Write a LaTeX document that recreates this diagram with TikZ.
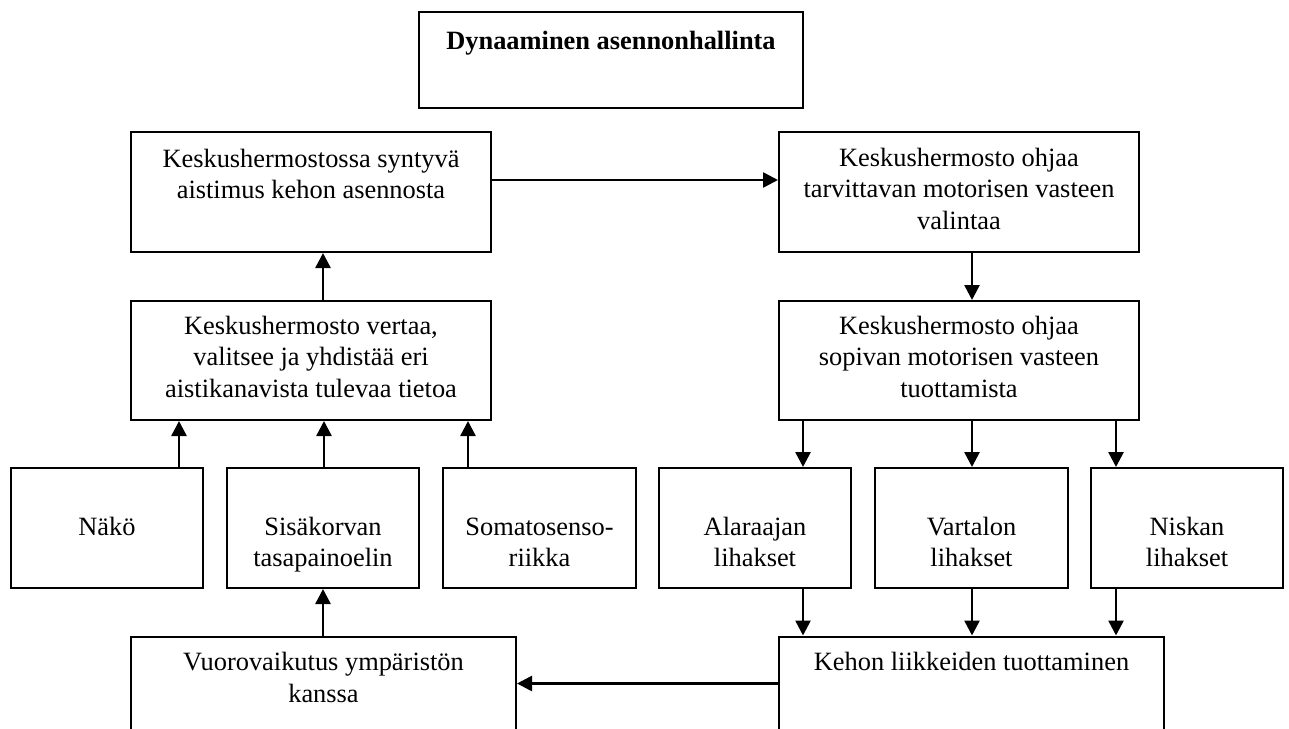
\documentclass[tikz,border=0pt]{standalone}
\usepackage{fontspec}
\setmainfont{Liberation Serif}
\usetikzlibrary{arrows.meta}
\tikzset{
  box/.style={draw, line width=2pt, inner sep=0pt},
  txt/.style={inner sep=0pt, align=center, anchor=north, font=\fontsize{26.4}{31.5}\selectfont},
  arr/.style={line width=2.6pt, -{Triangle[length=15pt,width=15pt]}}
}
\newcommand\mkbox[5]{\node[box, minimum width={(#4-#2)*1pt}, minimum height={(#5-#3)*1pt}] (#1) at ({(#2+#4)/2},{(#3+#5)/2}) {};}
\begin{document}
\begin{tikzpicture}[x=1pt,y=-1pt]
\useasboundingbox (0,0) rectangle (1289,728);
\clip (0,0) rectangle (1289,728);
% boxes
\mkbox{T}{419}{12}{803}{108}
\mkbox{A}{131}{132}{491}{252}
\mkbox{B}{779}{132}{1139}{252}
\mkbox{C}{131}{301}{491}{420}
\mkbox{D}{779}{301}{1139}{420}
\mkbox{N}{11}{468}{203}{588}
\mkbox{S}{227}{468}{419}{588}
\mkbox{M}{443}{468}{636}{588}
\mkbox{L}{659}{468}{851}{588}
\mkbox{R}{875}{468}{1068}{588}
\mkbox{K2}{1091}{468}{1283}{588}
\mkbox{V}{131}{636.5}{516}{760}
\mkbox{K}{779}{636.5}{1164}{760}
% texts
\node[txt, font=\fontsize{26.4}{31.5}\selectfont\bfseries] at ([yshift=-16pt]T.north) {\strut Dynaaminen asennonhallinta};
\node[txt] at ([yshift=-14pt]A.north) {\strut Keskushermostossa syntyvä\\aistimus kehon asennosta};
\node[txt] at ([yshift=-13pt]B.north) {\strut Keskushermosto ohjaa\\tarvittavan motorisen vasteen\\valintaa};
\node[txt] at ([yshift=-12pt]C.north) {\strut Keskushermosto vertaa,\\valitsee ja yhdistää eri\\aistikanavista tulevaa tietoa};
\node[txt] at ([yshift=-12pt]D.north) {\strut Keskushermosto ohjaa\\sopivan motorisen vasteen\\tuottamista};
\node[txt] at ([yshift=-46pt]N.north) {\strut Näkö};
\node[txt] at ([yshift=-46pt]S.north) {\strut Sisäkorvan\\tasapainoelin};
\node[txt] at ([yshift=-46pt]M.north) {\strut Somatosenso-\\riikka};
\node[txt] at ([yshift=-46pt]L.north) {\strut Alaraajan\\lihakset};
\node[txt] at ([yshift=-46pt]R.north) {\strut Vartalon\\lihakset};
\node[txt] at ([yshift=-46pt]K2.north) {\strut Niskan\\lihakset};
\node[txt] at ([yshift=-13pt]V.north) {\strut Vuorovaikutus ympäristön\\kanssa};
\node[txt] at ([yshift=-13pt]K.north) {\strut Kehon liikkeiden tuottaminen};
% connectors
\draw[arr] ([yshift=12pt]A.east) -- ([yshift=12pt]B.west);
\draw[arr] ([xshift=12pt]C.north) -- ([xshift=12pt]A.south);
\draw[arr] ([xshift=13pt]B.south) -- ([xshift=13pt]B.south |- D.north);
\draw[arr] ([xshift=72pt]N.north) -- ([xshift=72pt]N.north |- C.south);
\draw[arr] ([xshift=1pt]S.north) -- ([xshift=1pt]S.north |- C.south);
\draw[arr] ([xshift=-71.5pt]M.north) -- ([xshift=-71.5pt]M.north |- C.south);
\draw[arr] ([xshift=48pt]L.north |- D.south) -- ([xshift=48pt]L.north);
\draw[arr] ([xshift=0.5pt]R.north |- D.south) -- ([xshift=0.5pt]R.north);
\draw[arr] ([xshift=-71pt]K2.north |- D.south) -- ([xshift=-71pt]K2.north);
\draw[arr] ([xshift=48pt]L.south) -- ([xshift=48pt]L.south |- K.north);
\draw[arr] ([xshift=0.5pt]R.south) -- ([xshift=0.5pt]R.south |- K.north);
\draw[arr] ([xshift=-71pt]K2.south) -- ([xshift=-71pt]K2.south |- K.north);
\draw[arr] ([yshift=-48pt]K.north west) -- ([yshift=-48pt]V.north east);
\draw[arr] (S.south |- V.north) -- (S.south);
\end{tikzpicture}
\end{document}
